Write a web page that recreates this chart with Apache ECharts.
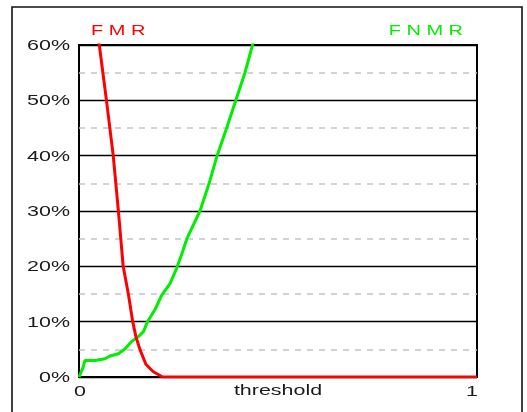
<!DOCTYPE html>
<html>
<head>
<meta charset="utf-8">
<script src="https://cdn.jsdelivr.net/npm/echarts@6/dist/echarts.min.js"></script>
<style>
  html, body { margin: 0; padding: 0; background: #fff; }
  #chart { width: 527px; height: 412px; }
</style>
</head>
<body>
<div id="chart"></div>
<script>
// False match rate vs threshold
const fmrThreshold = [0.040, 0.051, 0.069, 0.086, 0.099, 0.105, 0.111, 0.124, 0.135, 0.143, 0.153, 0.168, 0.186, 0.210, 1.0];
const fmrRate      = [65,    60,    50,    40,    30,    25,    20,    15,    10,    7.3,   5,     2.3,   1.0,   0,     0];

// False non-match rate vs threshold
const fnmrThreshold = [0.0, 0.003, 0.010, 0.015, 0.040, 0.065, 0.078, 0.099, 0.116, 0.132, 0.149, 0.162, 0.172, 0.191, 0.208, 0.229, 0.245, 0.258, 0.271, 0.304, 0.327, 0.347, 0.371, 0.394, 0.417, 0.436, 0.445];
const fnmrRate      = [0,   0,     1.7,   3.0,   3.0,   3.3,   3.8,   4.2,   5.1,   6.4,   7.3,   8.2,   10,    12.2,  14.8,  16.9,  19.6,  22.2,  25,    30,    35,    40,    45,    50,    55,    60,    63];

// Axis tick labels
const yTickValues = [0, 10, 20, 30, 40, 50, 60];
const yTickLabels = ['0%', '10%', '20%', '30%', '40%', '50%', '60%'];
const xTickValues = [0, 1];
const xTickLabels = ['0', '1'];
const xAxisName = 'threshold';
const fmrName = 'F M R';
const fnmrName = 'F N M R';

const RED = '#ff0000';
const GREEN = '#00ee00';
const FONT = '"Liberation Sans", Arial, sans-serif';

const chart = echarts.init(document.getElementById('chart'), null, { renderer: 'canvas' });

const pairs = (xs, ys) => xs.map((x, i) => [x, ys[i]]);

const option = {
  animation: false,
  backgroundColor: '#fff',
  grid: {
    left: 79, top: 45, right: 50, bottom: 35,
    show: true, borderColor: '#000', borderWidth: 2, backgroundColor: 'transparent'
  },
  xAxis: {
    type: 'value', min: 0, max: 1,
    axisLine: { show: false }, axisTick: { show: false },
    axisLabel: { show: false }, splitLine: { show: false }
  },
  yAxis: {
    type: 'value', min: 0, max: 60, interval: 10,
    axisLine: { show: false }, axisTick: { show: false },
    axisLabel: { show: false },
    splitLine: { show: true, lineStyle: { color: '#000', width: 1.3 } },
    minorTick: { show: false, splitNumber: 2 },
    minorSplitLine: { show: true, lineStyle: { color: '#c4c4c4', width: 1.5, type: [6, 6] } }
  },
  series: [
    {
      name: fnmrName, type: 'line', data: pairs(fnmrThreshold, fnmrRate),
      showSymbol: false, clip: true,
      lineStyle: { color: GREEN, width: 3 }, z: 3
    },
    {
      name: fmrName, type: 'line', data: pairs(fmrThreshold, fmrRate),
      showSymbol: false, clip: true,
      lineStyle: { color: RED, width: 3 }, z: 4
    }
  ]
};
chart.setOption(option);

// Labels are drawn as graphic text so they can be widened horizontally.
const AXIS_SCALE = 1.43;
const TITLE_SCALE = 1.33;
function label(text, x, y, align, color, scale, size) {
  return {
    type: 'text', x: x, y: y, scaleX: scale, silent: true,
    style: {
      text: text, fill: color, font: size + 'px ' + FONT,
      align: align, verticalAlign: 'middle'
    }
  };
}

const graphics = [];
// outer frame
graphics.push({
  type: 'rect', silent: true, z: -1,
  shape: { x: 12, y: 7, width: 510, height: 420 },
  style: { fill: 'none', stroke: '#111', lineWidth: 1.6 }
});

const plotLeft = chart.convertToPixel({ xAxisIndex: 0 }, 0);
const plotRight = chart.convertToPixel({ xAxisIndex: 0 }, 1);
const plotTop = chart.convertToPixel({ yAxisIndex: 0 }, 60);
const plotBottom = chart.convertToPixel({ yAxisIndex: 0 }, 0);

yTickValues.forEach((v, i) => {
  const py = chart.convertToPixel({ yAxisIndex: 0 }, v);
  graphics.push(label(yTickLabels[i], plotLeft - 9, py + 1, 'right', '#1a1a1a', AXIS_SCALE, 15));
});
xTickValues.forEach((v, i) => {
  const px = chart.convertToPixel({ xAxisIndex: 0 }, v);
  graphics.push(label(xTickLabels[i], px + (i === 0 ? 1 : -5), plotBottom + 15, 'center', '#1a1a1a', AXIS_SCALE, 15));
});
graphics.push(label(xAxisName, (plotLeft + plotRight) / 2, plotBottom + 14, 'center', '#1a1a1a', AXIS_SCALE, 15));
graphics.push(label(fmrName, plotLeft + 12, plotTop - 14, 'left', RED, TITLE_SCALE, 15));
graphics.push(label(fnmrName, plotRight - 14, plotTop - 14, 'right', GREEN, TITLE_SCALE, 15));

chart.setOption({ graphic: graphics });
</script>
</body>
</html>
